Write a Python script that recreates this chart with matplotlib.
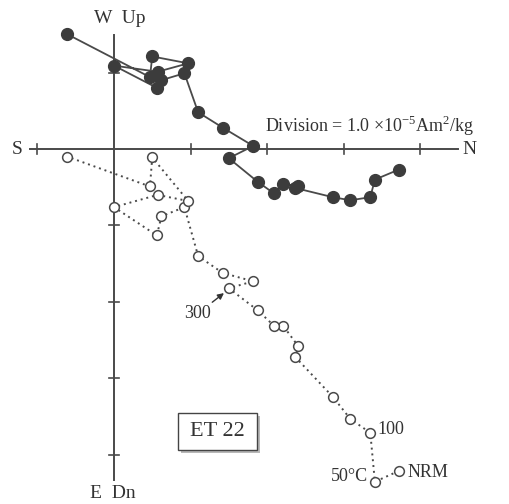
# -*- coding: utf-8 -*-
"""
Diagramme de Zijderveld - echantillon ET 22
"""
import matplotlib
matplotlib.use('Agg')
import matplotlib.pyplot as plt
from matplotlib.patches import Rectangle

plt.rcParams['font.family'] = 'Liberation Serif'
plt.rcParams['mathtext.fontset'] = 'custom'
plt.rcParams['mathtext.rm'] = 'Liberation Serif'

# Donnees (unite = 1 division), NRM en premier
# composante N (commune aux deux projections)
nord = [3.72, 3.41, 3.35, 3.09, 2.86, 2.37, 2.41, 2.21, 2.09, 1.88, 1.50, 1.82,
        1.42, 1.10, 0.92, 0.62, 0.56, 0.00, 0.57, 0.97, 0.50, 0.47, -0.61]
# projection horizontale : composante W (symboles pleins)
ouest = [-0.27, -0.40, -0.63, -0.67, -0.63, -0.51, -0.48, -0.46, -0.58, -0.43, -0.12, 0.04,
         0.28, 0.48, 0.99, 0.90, 0.80, 1.09, 1.01, 1.12, 1.21, 0.94, 1.50]
# projection verticale : composante Up (symboles vides, negatif = vers le bas)
haut = [-4.21, -4.35, -3.71, -3.53, -3.24, -2.72, -2.58, -2.31, -2.31, -2.11, -1.82, -1.73,
        -1.62, -1.40, -0.76, -0.88, -1.13, -0.76, -0.60, -0.68, -0.11, -0.49, -0.10]

# etiquettes des paliers de temperature (indice, texte)
etapes = [(0, 'NRM'), (1, '50°C'), (2, '100'), (10, '300')]

GRIS = '#4a4a4a'
TEXTE = '#333333'

fig = plt.figure(figsize=(5.09, 5.04), dpi=100)
ax = fig.add_axes([0, 0, 1, 1])
ax.set_xlim(-1.490, 5.163)
ax.set_ylim(-4.641, 1.948)
ax.axis('off')

# axes du diagramme
ax.plot([-1.10, 4.50], [0, 0], color=GRIS, lw=1.4)
ax.plot([0, 0], [1.49, -4.33], color=GRIS, lw=1.4)
for t in [-1, 1, 2, 3, 4]:
    ax.plot([t, t], [-0.07, 0.07], color=GRIS, lw=1.2)
for t in [1, -1, -2, -3, -4]:
    ax.plot([-0.06, 0.06], [t, t], color=GRIS, lw=1.2)

# projection horizontale
ax.plot(nord, ouest, '-', color=GRIS, lw=1.3, marker='o', ms=8.5,
        mfc='#3c3c3c', mec='#3c3c3c', zorder=3)
# projection verticale
ax.plot(nord, haut, color=GRIS, lw=1.4, ls=(0, (1, 2)), marker='o', ms=7,
        mfc='white', mec=GRIS, mew=1.1, zorder=3)

# textes des axes
ax.text(0.072, 1.70, 'W  Up', ha='center', va='center', fontsize=14, color=TEXTE)
ax.text(-0.01, -4.51, 'E  Dn', ha='center', va='center', fontsize=14, color=TEXTE)
ax.text(-1.26, 0.0, 'S', ha='center', va='center', fontsize=14, color=TEXTE)
ax.text(4.64, 0.0, 'N', ha='center', va='center', fontsize=14, color=TEXTE)
ax.text(1.97, 0.30, r'Division = 1.0 ×10$^{\mathregular{-5}}$Am$^{\mathregular{2}}$/kg',
        ha='left', va='center', fontsize=13, color=TEXTE)

# paliers de temperature
i, txt = etapes[0]
ax.annotate(txt, (nord[i], haut[i]), xytext=(9, -1), textcoords='offset pixels',
            ha='left', va='center', fontsize=13, color=TEXTE)
i, txt = etapes[1]
ax.annotate(txt, (nord[i], haut[i]), xytext=(-7, 5), textcoords='offset pixels',
            ha='right', va='center', fontsize=13, color=TEXTE)
i, txt = etapes[2]
ax.annotate(txt, (nord[i], haut[i]), xytext=(7, 3), textcoords='offset pixels',
            ha='left', va='center', fontsize=13, color=TEXTE)
i, txt = etapes[3]
ax.annotate(txt, (nord[i] - 0.02, haut[i] - 0.03), xytext=(-16, -23), textcoords='offset pixels',
            ha='right', va='center', fontsize=13, color=TEXTE,
            arrowprops=dict(arrowstyle='-|>', color=TEXTE, lw=1.0,
                            shrinkA=0, shrinkB=3, mutation_scale=9))

# cadre du nom de l'echantillon avec ombre
x0, y0, larg, haut_cadre = 0.837, -3.935, 1.032, 0.484
ax.add_patch(Rectangle((x0 + 0.04, y0 - 0.04), larg, haut_cadre, fc='#b8b8b8', ec='none', zorder=1))
ax.add_patch(Rectangle((x0, y0), larg, haut_cadre, fc='white', ec='#444444', lw=1.0, zorder=2))
ax.text(x0 + larg / 2, y0 + haut_cadre / 2, 'ET 22', ha='center', va='center',
        fontsize=16, color=TEXTE, zorder=3)

fig.savefig('out.png', dpi=100)
